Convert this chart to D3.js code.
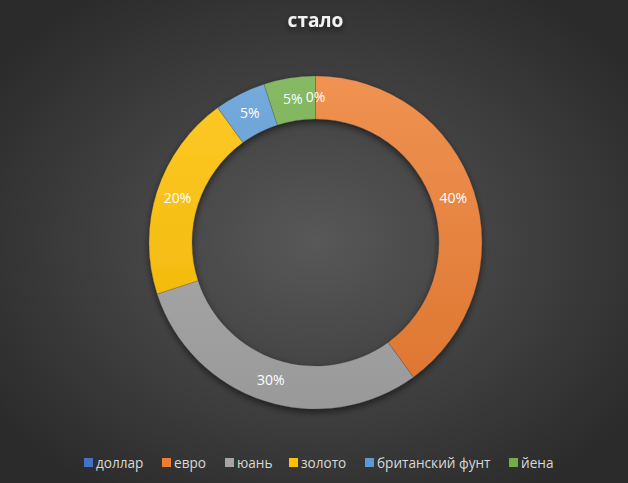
<!DOCTYPE html>
<html>
<head>
<meta charset="utf-8">
<script src="https://cdn.jsdelivr.net/npm/d3@7"></script>
<style>
  html, body { margin: 0; padding: 0; background: #333; }
  svg { display: block; }
</style>
</head>
<body>
<div id="chart"></div>
<script>
// data
const categories = ["доллар", "евро", "юань", "золото", "британский фунт", "йена"];
const shares = [0, 40, 30, 20, 5, 5];
const sliceLabels = ["0%", "40%", "30%", "20%", "5%", "5%"];
const colours = ["#4472C4", "#ED7D31", "#A5A5A5", "#FFC000", "#5B9BD5", "#70AD47"];
const chartTitle = "стало";

const width = 628, height = 483;
const cx = 315.5, cy = 242.5;
const rOuter = 166.5, rInner = 123.5;
const font = "'Open Sans', sans-serif";

const svg = d3.select("#chart").append("svg")
    .attr("width", width)
    .attr("height", height);

const defs = svg.append("defs");

// dark radial background like the office theme
const bg = defs.append("radialGradient")
    .attr("id", "bg")
    .attr("cx", 0.5).attr("cy", 0.5).attr("r", 0.62);
bg.append("stop").attr("offset", "0%").attr("stop-color", "#585858");
bg.append("stop").attr("offset", "100%").attr("stop-color", "#2b2b2b");

svg.append("rect")
    .attr("width", width).attr("height", height)
    .attr("fill", "url(#bg)");

// one vertical gradient per slice, lighter on top (ring coordinates)
colours.forEach((c, i) => {
  const g = defs.append("linearGradient")
      .attr("id", "grad" + i)
      .attr("gradientUnits", "userSpaceOnUse")
      .attr("x1", 0).attr("y1", -rOuter)
      .attr("x2", 0).attr("y2", rOuter);
  g.append("stop").attr("offset", "0%").attr("stop-color", d3.interpolateRgb(c, "#fff")(0.16));
  g.append("stop").attr("offset", "100%").attr("stop-color", d3.interpolateRgb(c, "#000")(0.07));
});

const shadow = defs.append("filter")
    .attr("id", "shadow")
    .attr("x", "-20%").attr("y", "-20%")
    .attr("width", "140%").attr("height", "140%");
shadow.append("feDropShadow")
    .attr("dx", 0).attr("dy", 3)
    .attr("stdDeviation", 3.5)
    .attr("flood-color", "#000")
    .attr("flood-opacity", 0.55);

// title
svg.append("text")
    .attr("x", cx).attr("y", 27)
    .attr("text-anchor", "middle")
    .attr("fill", "#f2f2f2")
    .attr("font-family", font)
    .attr("font-weight", "bold")
    .attr("font-size", 19)
    .attr("filter", "url(#shadow)")
    .text(chartTitle);

// donut
const pie = d3.pie().sort(null).value(d => d);
const arcs = pie(shares);
const arc = d3.arc().innerRadius(rInner).outerRadius(rOuter);
const rMid = (rInner + rOuter) / 2;
const labelArc = d3.arc().innerRadius(rMid).outerRadius(rMid);

const ring = svg.append("g")
    .attr("transform", `translate(${cx},${cy})`);

ring.append("g")
    .attr("filter", "url(#shadow)")
  .selectAll("path")
  .data(arcs)
  .join("path")
    .attr("d", arc)
    .attr("fill", (d, i) => `url(#grad${i})`)
    .attr("stroke", "rgba(60,60,60,0.35)")
    .attr("stroke-width", 0.6);

ring.append("g")
  .selectAll("text")
  .data(arcs)
  .join("text")
    .attr("transform", d => {
      const [x, y] = labelArc.centroid(d);
      return `translate(${x},${y})`;
    })
    .attr("dy", "0.35em")
    .attr("text-anchor", "middle")
    .attr("fill", "#ffffff")
    .attr("font-family", font)
    .attr("font-size", 14)
    .text((d, i) => sliceLabels[i]);

// legend
const legendX = [84, 162, 225, 289, 365, 509];
const legend = svg.append("g")
  .selectAll("g")
  .data(categories)
  .join("g")
    .attr("transform", (d, i) => `translate(${legendX[i]},463)`);

legend.append("rect")
    .attr("x", 0).attr("y", -5)
    .attr("width", 9).attr("height", 9)
    .attr("fill", (d, i) => colours[i]);

legend.append("text")
    .attr("x", 12).attr("y", 0)
    .attr("dy", "0.35em")
    .attr("fill", "#d9d9d9")
    .attr("font-family", font)
    .attr("font-size", 13.6)
    .text(d => d);
</script>
</body>
</html>
